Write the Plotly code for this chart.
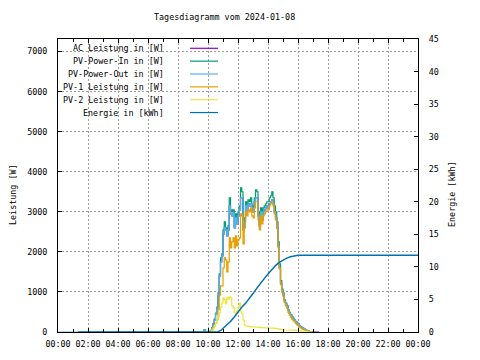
import plotly.graph_objects as go
import pandas as pd

DAY = "2024-01-08"
TITLE = "Tagesdiagramm vom 2024-01-08"

# 5-minute grid 09:40 .. 17:25
grid = [t.strftime("%H:%M") for t in pd.date_range(f"{DAY} 09:40", f"{DAY} 17:25", freq="5min")]

pv_in = [0, 60, 0, 0, 0, 15, 40, 110, 210, 320, 470, 620, 980, 1450, 1850, 1950,
         2550, 2750, 2600, 2450, 2650, 3350, 3050, 3000, 3050, 2650, 2950, 2750,
         3000, 3150, 3600, 3500, 2600, 2850, 3250, 3150, 3300, 3250, 3350, 3150,
         3100, 3350, 3550, 3500, 3000, 2750, 3100, 2900, 3100, 3150, 3200, 3250,
         3250, 3350, 3400, 3500, 3350, 3150, 3000, 2750, 2250, 1700, 1280, 1070,
         970, 800, 720, 660, 560, 490, 430, 380, 340, 300, 260, 220,
         200, 160, 130, 110, 90, 70, 50, 35, 20, 10, 5, 0,
         None, None, None, None, None, None]

pv_out = [0, 50, 0, 0, 0, 10, 35, 100, 200, 300, 450, 600, 900, 1400, 1750, 1900,
          2450, 2600, 2550, 2400, 2550, 3150, 2950, 2900, 2950, 2600, 2850, 2700,
          2900, 3050, 3350, 3350, 2550, 2750, 3150, 3050, 3200, 3150, 3200, 3050,
          3000, 3250, 3350, 3350, 2900, 2650, 3000, 2800, 3000, 3050, 3100, 3150,
          3100, 3200, 3250, 3300, 3200, 3000, 2850, 2600, 2150, 1600, 1220, 1030,
          930, 770, 690, 640, 540, 470, 420, 370, 330, 295, 255, 215,
          195, 155, 125, 105, 85, 65, 48, 32, 18, 8, 3, 0,
          None, None, None, None, None, None]

pv1 = [0, 0, 0, 0, 0, 5, 20, 60, 110, 150, 220, 300, 560, 920, 1150, 1150,
       1600, 1850, 1800, 1500, 1750, 2350, 2100, 2250, 2350, 2100, 2400, 2150,
       2300, 2350, 2950, 2900, 2200, 2600, 3000, 2900, 3050, 3000, 3100, 2900,
       2850, 3100, 3250, 3250, 2800, 2550, 2900, 2700, 2900, 2950, 3000, 3050,
       3050, 3150, 3200, 3250, 3150, 2950, 2800, 2580, 2100, 1580, 1180, 990,
       890, 730, 650, 590, 490, 420, 370, 320, 285, 250, 210, 175,
       155, 120, 95, 75, 60, 45, 32, 22, 12, 6, 2, 0,
       None, None, None, None, None, None]

pv2 = [0, 0, 0, 0, 0, 5, 15, 40, 90, 160, 230, 300, 380, 480, 620, 720,
       850, 800, 700, 850, 820, 880, 860, 660, 600, 480, 450, 520,
       620, 720, 520, 460, 300, 170, 150, 145, 140, 135, 130, 130,
       125, 125, 120, 120, 115, 110, 115, 110, 110, 105, 105, 100,
       100, 100, 95, 95, 95, 90, 90, 85, 80, 70, 60, 55,
       55, 50, 50, 50, 50, 50, 45, 45, 45, 40, 40, 40,
       35, 35, 30, 30, 25, 20, 15, 10, 5, 0, 0, 0,
       None, None, None, None, None, None]

ac = [v if v is not None else 0 for v in pv_out]

pv_out_pre_t = ["00:00"]
pv_out_pre_v = [0]

energy_t = ["01:20", "10:35", "10:40", "10:50", "11:00", "11:15", "11:30", "11:45",
            "12:00", "12:15", "12:30", "12:45", "13:00", "13:15", "13:30", "13:45",
            "14:00", "14:15", "14:30", "14:45", "15:00", "15:15", "15:30", "15:45",
            "16:00", "16:15", "24:00"]
energy = [0, 0, 0.05, 0.2, 0.55, 1.0, 1.6, 2.3,
          3.1, 3.8, 4.4, 5.1, 5.9, 6.7, 7.5, 8.2,
          8.9, 9.6, 10.2, 10.7, 11.06, 11.35, 11.55, 11.7,
          11.78, 11.8, 11.8]

names = ["AC Leistung in [W]", "PV-Power-In in [W]", "PV-Power-Out in [W]",
         "PV-1 Leistung in [W]", "PV-2 Leistung in [W]", "Energie in [kWh]"]
colors = ["#9400D3", "#009E73", "#56B4E9", "#E69F00", "#F0E442", "#0072B2"]


def ts(t):
    if t == "24:00":
        return "2024-01-09 00:00"
    return f"{DAY} {t}"


FONT = "DejaVu Sans Mono"
FS = 8.4

fig = go.Figure()
gx = [ts(t) for t in grid]
fig.add_trace(go.Scatter(x=gx, y=ac, mode="lines", line=dict(color=colors[0], width=1.2, shape="hv"),
                         connectgaps=False, showlegend=False))
fig.add_trace(go.Scatter(x=gx, y=pv_in, mode="lines", line=dict(color=colors[1], width=1.2, shape="hv"),
                         connectgaps=False, showlegend=False))
fig.add_trace(go.Scatter(x=[ts(t) for t in pv_out_pre_t] + gx, y=pv_out_pre_v + pv_out, mode="lines",
                         line=dict(color=colors[2], width=1.2, shape="hv"), connectgaps=False, showlegend=False))
fig.add_trace(go.Scatter(x=gx, y=pv1, mode="lines", line=dict(color=colors[3], width=1.2, shape="hv"),
                         connectgaps=False, showlegend=False))
fig.add_trace(go.Scatter(x=gx, y=pv2, mode="lines", line=dict(color=colors[4], width=1.2, shape="hv"),
                         connectgaps=False, showlegend=False))
fig.add_trace(go.Scatter(x=[ts(t) for t in energy_t], y=energy, mode="lines", yaxis="y2",
                         line=dict(color=colors[5], width=1.5), showlegend=False))

# plot area in px: x 58..418, y 39..332
L, R, T, B = 58, 418, 39, 332
W, H = R - L, B - T


def px(x):
    return (x - L) / W


def py(y):
    return (B - y) / H


ann = []
ann.append(dict(text=TITLE, x=px(224), y=py(17), xref="paper", yref="paper", showarrow=False,
                xanchor="center", yanchor="middle", font=dict(family=FONT, size=FS, color="black")))
ann.append(dict(text="Leistung [W]", x=px(13), y=py(195), xref="paper", yref="paper", showarrow=False,
                textangle=-90, xanchor="center", yanchor="middle", font=dict(family=FONT, size=FS, color="black")))
ann.append(dict(text="Energie [kWh]", x=px(452), y=py(194), xref="paper", yref="paper", showarrow=False,
                textangle=-90, xanchor="center", yanchor="middle", font=dict(family=FONT, size=FS, color="black")))
shapes = []
for i, (n, c) in enumerate(zip(names, colors)):
    yy = 48.3 + i * 12.85
    ann.append(dict(text=n, x=px(166), y=py(yy), xref="paper", yref="paper", showarrow=False,
                    xanchor="right", yanchor="middle", font=dict(family=FONT, size=FS, color="black")))
    shapes.append(dict(type="line", xref="paper", yref="paper", x0=px(190), x1=px(218), y0=py(yy), y1=py(yy),
                       line=dict(color=c, width=1.2)))

fig.update_layout(
    width=480, height=360,
    margin=dict(l=L, r=480 - R, t=T, b=360 - B, pad=0),
    paper_bgcolor="white", plot_bgcolor="white",
    font=dict(family=FONT, size=FS, color="black"),
    annotations=ann, shapes=shapes, showlegend=False,
    xaxis=dict(type="date", range=[f"{DAY} 00:00", "2024-01-09 00:00"], dtick=7200000,
               tick0=f"{DAY} 00:00", tickformat="%H:%M", ticks="inside", ticklen=4, tickcolor="black",
               showline=True, linecolor="black", linewidth=1, mirror="ticks",
               showgrid=True, gridcolor="#a0a0a0", griddash="2px,2px", gridwidth=1, zeroline=False,
               minor=dict(dtick=3600000, tick0=f"{DAY} 00:00", ticks="inside", ticklen=3, tickcolor="black",
                          showgrid=False),
               tickfont=dict(family=FONT, size=FS, color="black"), ticklabelstandoff=4),
    yaxis=dict(range=[0, 7312], dtick=1000, tick0=0, ticks="inside", ticklen=4, tickcolor="black",
               showline=True, linecolor="black", linewidth=1, showgrid=True, gridcolor="#a0a0a0",
               griddash="2px,2px", gridwidth=1, zeroline=False,
               tickfont=dict(family=FONT, size=FS, color="black"), ticklabelstandoff=8),
    yaxis2=dict(range=[0, 45], dtick=5, tick0=0, overlaying="y", side="right", ticks="inside", ticklen=4,
                tickcolor="black", showline=True, linecolor="black", linewidth=1, showgrid=False,
                zeroline=False, tickfont=dict(family=FONT, size=FS, color="black"), ticklabelstandoff=8),
)

fig.write_html("out.html", config={"displayModeBar": False},
               post_script="document.body.style.margin='0px';document.body.style.padding='0px';")
